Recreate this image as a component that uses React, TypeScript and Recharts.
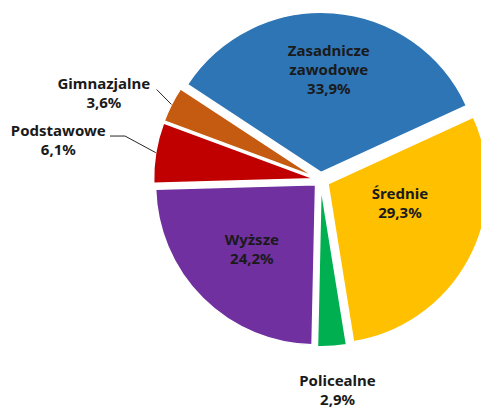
import React from 'react';
import { PieChart, Pie, Cell } from 'recharts';

// Struktura wykształcenia — udział procentowy
const categories = ['Zasadnicze zawodowe', 'Średnie', 'Policealne', 'Wyższe', 'Podstawowe', 'Gimnazjalne'];
const shares = [33.9, 29.3, 2.9, 24.2, 6.1, 3.6];
const colors = ['#2E75B6', '#FFC000', '#00B050', '#7030A0', '#C00000', '#C55A11'];

const data = categories.map((name, i) => ({ name, value: shares[i] }));

const W = 481;
const H = 409;
const CX = 320.5;
const CY = 179.8;
const R = 160;
const START = 146.7;
const RAD = Math.PI / 180;

// wysunięcie wycinków (px)
const explode = [7.5, 8.5, 7, 7, 7, 7];

const total = shares.reduce((a, b) => a + b, 0);
const mids: number[] = [];
{
  let a = START;
  shares.forEach((v) => {
    const span = (v / total) * 360;
    mids.push(a - span / 2);
    a -= span;
  });
}

// rozmieszczenie etykiet: inside -> promień względny + przesunięcie kąta, outside -> linia odniesienia
type LabelCfg =
  | { kind: 'in'; r: number; da: number }
  | { kind: 'out'; r: number; da: number }
  | { kind: 'leader'; elbow: [number, number]; tail: number; text: [number, number] };

const labelCfg: LabelCfg[] = [
  { kind: 'in', r: 0.645, da: 0 },
  { kind: 'in', r: 0.464, da: 13.8 },
  { kind: 'out', r: 1.274, da: 0.7 },
  { kind: 'in', r: 0.565, da: 0 },
  { kind: 'leader', elbow: [-30.7, -16.6], tail: -15, text: [-51.7, -6] },
  { kind: 'leader', elbow: [-14.9, -15], tail: 0, text: [-52.7, -6] },
];

const fmt = (v: number) => `${v.toFixed(1).replace('.', ',')}%`;
const LH = 19;
const FONT = { fontFamily: '"Noto Sans", sans-serif', fontWeight: 700, fontSize: 15, fill: '#1a1a1a' };

function TextBlock({ x, y, lines }: { x: number; y: number; lines: string[] }) {
  const y0 = y - ((lines.length - 1) * LH) / 2;
  return (
    <text textAnchor="middle" dominantBaseline="central" {...FONT}>
      {lines.map((l, i) => (
        <tspan key={i} x={x} y={y0 + i * LH}>
          {l}
        </tspan>
      ))}
    </text>
  );
}

function renderLabel(props: any, k: number) {
  if (props.index !== k) return null;
  const { cx, cy, midAngle, outerRadius } = props;
  const cfg = labelCfg[k];
  const name = categories[k];
  const lines = [...name.split(' '), fmt(shares[k])];
  if (cfg.kind === 'in' || cfg.kind === 'out') {
    const a = (midAngle + cfg.da) * RAD;
    const x = cx + outerRadius * cfg.r * Math.cos(a);
    const y = cy - outerRadius * cfg.r * Math.sin(a);
    return <TextBlock x={x} y={y} lines={lines} />;
  }
  const a = midAngle * RAD;
  const ex = cx + outerRadius * Math.cos(a);
  const ey = cy - outerRadius * Math.sin(a);
  const bx = ex + cfg.elbow[0];
  const by = ey + cfg.elbow[1];
  const tx = bx + cfg.tail;
  const path = `M${ex},${ey}L${bx},${by}L${tx},${by}`;
  return (
    <g>
      <path d={path} stroke="#262626" strokeWidth={1} fill="none" />
      <TextBlock x={tx + cfg.text[0]} y={by + cfg.text[1] + LH / 2} lines={lines} />
    </g>
  );
}

export default function App() {
  return (
    <div style={{ position: 'absolute', left: 0, top: 0, width: W, height: H, background: '#fff' }}>
      <PieChart width={W} height={H} margin={{ top: 0, right: 0, bottom: 0, left: 0 }}>
        {data.map((_, k) => (
          <Pie
            key={k}
            data={data}
            dataKey="value"
            nameKey="name"
            cx={CX + explode[k] * Math.cos(mids[k] * RAD)}
            cy={CY - explode[k] * Math.sin(mids[k] * RAD)}
            outerRadius={R}
            startAngle={START}
            endAngle={START - 360}
            isAnimationActive={false}
            labelLine={false}
            label={(p: any) => renderLabel(p, k)}
          >
            {data.map((d, i) => (
              <Cell
                key={d.name}
                fill={i === k ? colors[i] : 'transparent'}
                stroke={i === k ? '#ffffff' : 'none'}
                strokeWidth={i === k ? 1.5 : 0}
              />
            ))}
          </Pie>
        ))}
      </PieChart>
    </div>
  );
}
